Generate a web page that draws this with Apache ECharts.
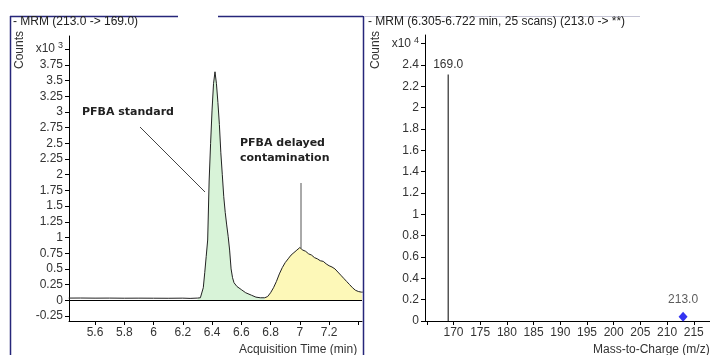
<!DOCTYPE html>
<html>
<head>
<meta charset="utf-8">
<script src="https://cdn.jsdelivr.net/npm/echarts@6/dist/echarts.min.js"></script>
<style>html,body{margin:0;padding:0;background:#fff;}#c{width:710px;height:355px;}</style>
</head>
<body>
<div id="c"></div>
<script>
// ---- Chromatogram: MRM (213.0 -> 169.0), counts x10^3
var timeVals = [5.42,5.5,5.6,5.7,5.8,5.9,6.0,6.1,6.2,6.25,6.3,6.32,6.33,6.34,6.35,6.36,6.37,6.38,6.39,6.40,6.41,6.42,6.43,6.44,6.45,6.46,6.47,6.48,6.49,6.50,6.51,6.52,6.53,6.54,6.55,6.57,6.60,6.63,6.67,6.70,6.73,6.76,6.78,6.80,6.82,6.84,6.86,6.88,6.90,6.92,6.94,6.96,6.98,6.99,7.00,7.01,7.02,7.04,7.06,7.08,7.10,7.12,7.14,7.16,7.18,7.20,7.22,7.24,7.26,7.28,7.30,7.32,7.34,7.36,7.38,7.40,7.42,7.43];
var countVals = [0.035,0.036,0.034,0.035,0.033,0.034,0.033,0.032,0.034,0.03,0.035,0.04,0.07,0.2,0.44,0.7,0.96,1.9,2.5,3.03,3.45,3.64,3.45,3.15,2.8,2.35,2.0,1.65,1.4,1.2,1.02,0.8,0.5,0.36,0.28,0.22,0.17,0.12,0.08,0.05,0.04,0.04,0.06,0.12,0.2,0.3,0.42,0.52,0.6,0.66,0.72,0.76,0.8,0.83,0.84,0.81,0.80,0.78,0.74,0.72,0.68,0.66,0.63,0.62,0.58,0.55,0.53,0.50,0.45,0.40,0.35,0.30,0.25,0.20,0.16,0.14,0.13,0.13];
var standardRange = [6.30, 6.76];
var delayedRange = [6.76, 7.43];
var chromYTicks = [-0.25,0,0.25,0.5,0.75,1,1.25,1.5,1.75,2,2.25,2.5,2.75,3,3.25,3.5,3.75,4];
var chromXTicks = [5.6,5.8,6.0,6.2,6.4,6.6,6.8,7.0,7.2,7.4];
var chromXLabels = [5.6,5.8,6.0,6.2,6.4,6.6,6.8,7.0,7.2];

// ---- Spectrum: MRM (6.305-6.722 min, 25 scans) (213.0 -> **), counts x10^4
var mzVals = [169.0];
var abundVals = [2.31];
var precursorMz = [213.0];
var precursorVal = [0.04];
var specYTicks = [0,0.2,0.4,0.6,0.8,1,1.2,1.4,1.6,1.8,2,2.2,2.4,2.6];
var specXTicks = [165,170,175,180,185,190,195,200,205,210,215];
var specXLabels = [170,175,180,185,190,195,200,205,210,215];

var FONT = '"Liberation Sans", Arial, sans-serif';
var TXT = '#333';

function pairs(xs, ys, lo, hi) {
  var out = [];
  for (var i = 0; i < xs.length; i++) {
    if (xs[i] >= lo && xs[i] <= hi) out.push([xs[i], ys[i]]);
  }
  return out;
}
var trace = pairs(timeVals, countVals, -Infinity, Infinity);
var greenPart = pairs(timeVals, countVals, standardRange[0], standardRange[1]);
var yellowPart = pairs(timeVals, countVals, delayedRange[0], delayedRange[1]);

function axisLbl(extra) {
  var o = {color: TXT, fontFamily: FONT, fontSize: 12, margin: 6};
  for (var k in extra) o[k] = extra[k];
  return o;
}
var richExp = {
  a: {fontSize: 12, fontFamily: FONT, color: TXT},
  s: {fontSize: 9, fontFamily: FONT, color: TXT, padding: [0, 0, 7, 3]}
};

var chart = echarts.init(document.getElementById('c'), null, {renderer: 'canvas'});
var NAVY = '#26267a';
chart.setOption({
  animation: false,
  grid: [
    {left: 69, top: 36, width: 293, height: 285},
    {left: 425, top: 35, width: 300, height: 286}
  ],
  xAxis: [
    {gridIndex: 0, type: 'value', min: 5.422, max: 7.425,
      axisLine: {show: true, onZero: false, lineStyle: {color: '#000', width: 1}},
      axisTick: {show: true, length: 4, lineStyle: {color: '#000'}, customValues: chromXTicks},
      axisLabel: axisLbl({customValues: chromXLabels, formatter: function (v) { return String(Math.round(v * 10) / 10); }}),
      splitLine: {show: false}},
    {gridIndex: 1, type: 'value', min: 164.66, max: 218.04,
      axisLine: {show: true, onZero: false, lineStyle: {color: '#000', width: 1}},
      axisTick: {show: true, length: 4, lineStyle: {color: '#000'}, customValues: specXTicks},
      axisLabel: axisLbl({customValues: specXLabels}),
      splitLine: {show: false}}
  ],
  yAxis: [
    {gridIndex: 0, type: 'value', min: -0.33, max: 4.21,
      axisLine: {show: true, onZero: false, lineStyle: {color: '#000', width: 1}},
      axisTick: {show: true, length: 4, lineStyle: {color: '#000'}, customValues: chromYTicks},
      axisLabel: axisLbl({customValues: chromYTicks, rich: richExp,
        formatter: function (v) { return v >= 3.99 ? '{a|x10}{s|3}' : String(v); }}),
      splitLine: {show: false}},
    {gridIndex: 1, type: 'value', min: 0, max: 2.68,
      axisLine: {show: true, onZero: false, lineStyle: {color: '#000', width: 1}},
      axisTick: {show: true, length: 4, lineStyle: {color: '#000'}, customValues: specYTicks},
      axisLabel: axisLbl({customValues: specYTicks, rich: richExp,
        formatter: function (v) { return v >= 2.59 ? '{a|x10}{s|4}' : String(Math.round(v * 10) / 10); }}),
      splitLine: {show: false}}
  ],
  series: [
    {type: 'line', xAxisIndex: 0, yAxisIndex: 0, data: greenPart, showSymbol: false, symbol: 'none',
      lineStyle: {width: 0, opacity: 0}, areaStyle: {color: '#d8f3d8', opacity: 1, origin: 0}, z: 1},
    {type: 'line', xAxisIndex: 0, yAxisIndex: 0, data: yellowPart, showSymbol: false, symbol: 'none',
      lineStyle: {width: 0, opacity: 0}, areaStyle: {color: '#fdf8b8', opacity: 1, origin: 0}, z: 1},
    {type: 'line', xAxisIndex: 0, yAxisIndex: 0, data: trace, showSymbol: false, symbol: 'none',
      lineStyle: {color: '#222', width: 1}, z: 3,
      markLine: {silent: true, symbol: ['none', 'none'], label: {show: false},
        lineStyle: {color: '#000', width: 1, type: 'solid'}, data: [{yAxis: 0}]}},
    {type: 'bar', xAxisIndex: 1, yAxisIndex: 1, barWidth: 1,
      data: mzVals.map(function (m, i) { return [m, abundVals[i]]; }),
      itemStyle: {color: '#000'},
      label: {show: true, position: 'top', distance: 4, color: TXT, fontFamily: FONT, fontSize: 12,
        formatter: function (p) { return p.value[0].toFixed(1); }}},
    {type: 'scatter', xAxisIndex: 1, yAxisIndex: 1, symbol: 'diamond', symbolSize: [9, 10],
      data: precursorMz.map(function (m, i) { return [m, precursorVal[i]]; }),
      itemStyle: {color: '#0000ee'},
      label: {show: true, position: 'top', distance: 6, color: TXT, fontFamily: FONT, fontSize: 12,
        formatter: function (p) { return p.value[0].toFixed(1); }}}
  ],
  graphic: [
    // panel frames
    {type: 'line', shape: {x1: 10.5, y1: 16, x2: 10.5, y2: 355}, style: {stroke: NAVY, lineWidth: 1.5}},
    {type: 'line', shape: {x1: 10, y1: 16.5, x2: 178, y2: 16.5}, style: {stroke: NAVY, lineWidth: 1.5}},
    {type: 'line', shape: {x1: 218, y1: 16.5, x2: 363, y2: 16.5}, style: {stroke: NAVY, lineWidth: 1.5}},
    {type: 'line', shape: {x1: 363.5, y1: 16, x2: 363.5, y2: 355}, style: {stroke: NAVY, lineWidth: 1.5}},
    {type: 'line', shape: {x1: 365, y1: 16.5, x2: 640, y2: 16.5}, style: {stroke: '#c4c4d4', lineWidth: 1}},
    // titles
    {type: 'text', x: 13, y: 22, style: {text: '- MRM (213.0 -> 169.0)', font: '12px ' + FONT, fill: '#222', verticalAlign: 'middle'}},
    {type: 'text', x: 368, y: 22, style: {text: '- MRM (6.305-6.722 min, 25 scans) (213.0 -> **)', font: '12px ' + FONT, fill: '#222', verticalAlign: 'middle'}},
    // y-axis titles
    {type: 'text', x: 20, y: 50, rotation: Math.PI / 2, style: {text: 'Counts', font: '12px ' + FONT, fill: TXT, align: 'center', verticalAlign: 'middle'}},
    {type: 'text', x: 376, y: 50, rotation: Math.PI / 2, style: {text: 'Counts', font: '12px ' + FONT, fill: TXT, align: 'center', verticalAlign: 'middle'}},
    // x-axis titles
    {type: 'text', x: 298, y: 350, style: {text: 'Acquisition Time (min)', font: '12px ' + FONT, fill: TXT, align: 'center', verticalAlign: 'middle'}},
    {type: 'text', x: 593, y: 350, style: {text: 'Mass-to-Charge (m/z)', font: '12px ' + FONT, fill: TXT, align: 'left', verticalAlign: 'middle'}},
    // annotations
    {type: 'text', x: 82, y: 112, style: {text: 'PFBA standard', font: 'bold 11px "DejaVu Sans", Verdana, sans-serif', fill: '#222', verticalAlign: 'middle'}},
    {type: 'line', shape: {x1: 140, y1: 127, x2: 205, y2: 192}, style: {stroke: '#444', lineWidth: 1}},
    {type: 'text', x: 240, y: 143, style: {text: 'PFBA delayed', font: 'bold 11px "DejaVu Sans", Verdana, sans-serif', fill: '#222', verticalAlign: 'middle'}},
    {type: 'text', x: 240, y: 158, style: {text: 'contamination', font: 'bold 11px "DejaVu Sans", Verdana, sans-serif', fill: '#222', verticalAlign: 'middle'}},
    {type: 'line', shape: {x1: 301, y1: 183, x2: 301, y2: 248}, style: {stroke: '#555', lineWidth: 1}}
  ]
});
</script>
</body>
</html>
